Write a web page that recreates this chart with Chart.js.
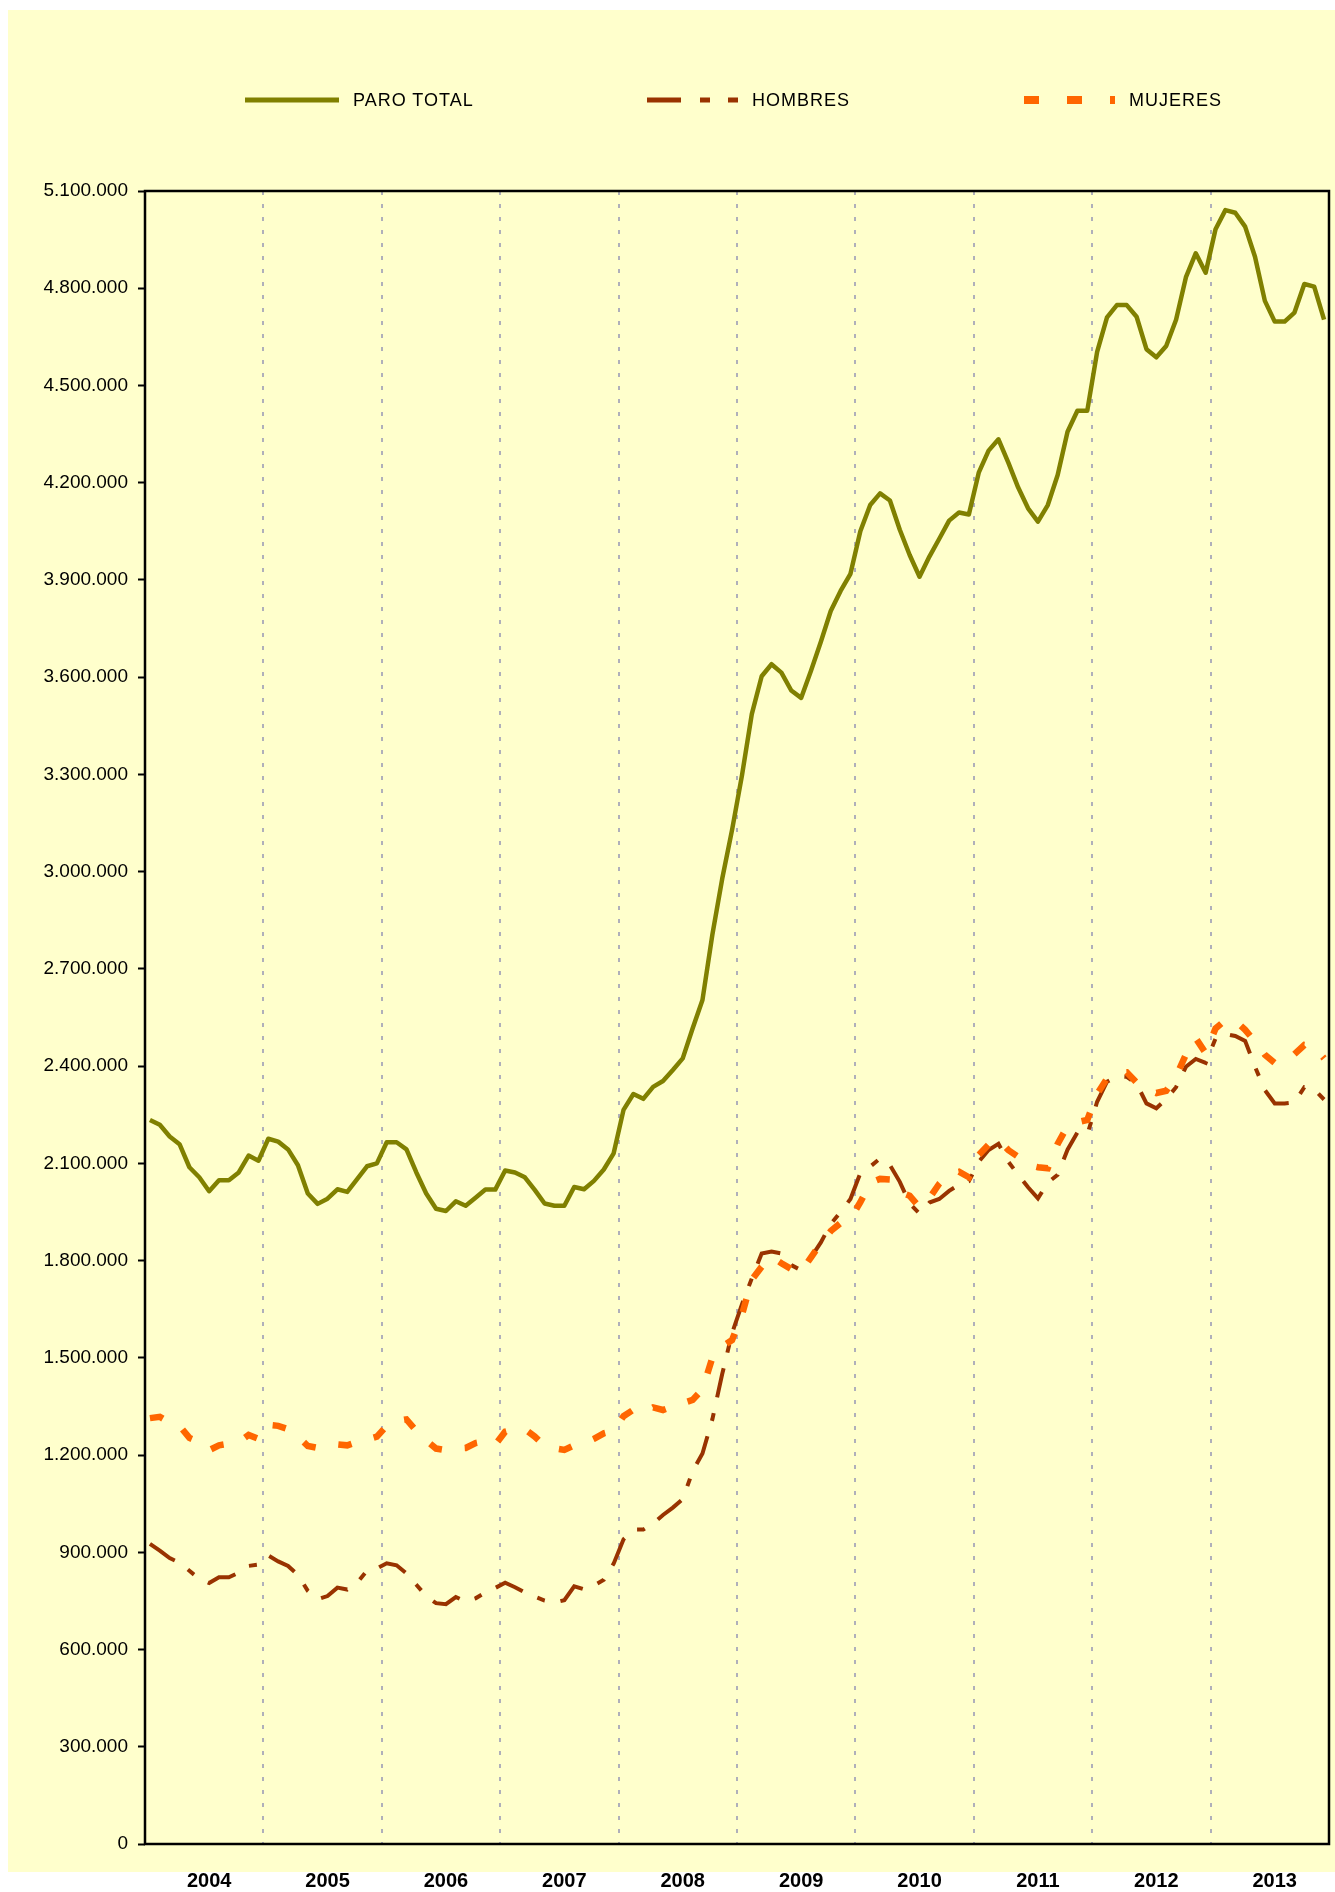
<!DOCTYPE html>
<html lang="es">
<head>
<meta charset="utf-8">
<title>Paro registrado 2004-2013</title>
<script src="https://cdn.jsdelivr.net/npm/chart.js@4.4.1/dist/chart.umd.min.js"></script>
<style>
  html, body { margin: 0; padding: 0; background: #fff; }
  #wrap { position: relative; width: 1335px; height: 1892px; }
  #chart { position: absolute; left: 0; top: 0; }
  .legend { position: absolute; left: 0; top: 88px; width: 1335px; height: 24px;
            font-family: "Liberation Sans", Arial, sans-serif; font-size: 18px;
            letter-spacing: 1px; color: #000; }
  .item { position: absolute; top: 0; height: 24px; display: flex; align-items: center; white-space: nowrap; }
  .item svg { margin-right: 14px; display: block; }
</style>
</head>
<body>
<div id="wrap">
  <canvas id="chart" width="1335" height="1892"></canvas>
  <div class="legend">
    <div class="item" style="left:245px">
      <svg width="94" height="12"><line x1="0" y1="6" x2="94" y2="6" stroke="#808000" stroke-width="5"/></svg>PARO TOTAL
    </div>
    <div class="item" style="left:647px">
      <svg width="91" height="12"><line x1="0" y1="6" x2="91" y2="6" stroke="#993300" stroke-width="5" stroke-dasharray="34 19 10 18 10"/></svg>HOMBRES
    </div>
    <div class="item" style="left:1024px">
      <svg width="91" height="12"><line x1="0" y1="6" x2="91" y2="6" stroke="#FF6600" stroke-width="8" stroke-dasharray="15 28"/></svg>MUJERES
    </div>
  </div>
</div>

<script>
// years shown under the axis, one category per month
const years = ["2004", "2005", "2006", "2007", "2008", "2009", "2010", "2011", "2012", "2013"];
const monthNames = ["01", "02", "03", "04", "05", "06", "07", "08", "09", "10", "11", "12"];
const months = years.flatMap(y => monthNames.map(m => y + "-" + m));

// values in thousands of people
const paroTotal = [
  2234, 2219, 2183, 2159, 2088, 2057, 2014, 2048, 2048, 2072, 2124, 2108, // 2004
  2176, 2167, 2143, 2094, 2007, 1975, 1991, 2020, 2012, 2051, 2091, 2100, // 2005
  2165, 2165, 2143, 2072, 2007, 1960, 1953, 1983, 1969, 1994, 2019, 2019, // 2006
  2078, 2072, 2057, 2018, 1976, 1969, 1969, 2027, 2020, 2046, 2081, 2131, // 2007
  2265, 2314, 2299, 2336, 2354, 2388, 2424, 2516, 2604, 2805, 2978, 3129, // 2008
  3296, 3486, 3603, 3640, 3614, 3559, 3536, 3620, 3709, 3804, 3866, 3919, // 2009
  4050, 4131, 4167, 4145, 4055, 3977, 3910, 3972, 4027, 4083, 4108, 4102, // 2010
  4231, 4299, 4334, 4262, 4185, 4121, 4080, 4131, 4224, 4357, 4422, 4422, // 2011
  4604, 4710, 4748, 4748, 4712, 4612, 4587, 4622, 4703, 4834, 4908, 4848, // 2012
  4982, 5041, 5033, 4990, 4897, 4761, 4697, 4697, 4725, 4813, 4805, 4703  // 2013
];

const hombres = [
  926, 905, 882, 868, 843, 818, 805, 823, 823, 837, 858, 862,
  890, 872, 858, 830, 781, 755, 765, 791, 785, 806, 843, 850,
  866, 860, 835, 800, 765, 743, 740, 762, 748, 758, 776, 790,
  806, 792, 776, 763, 751, 745, 752, 795, 786, 798, 815, 865,
  940, 970, 970, 989, 1015, 1038, 1064, 1150, 1205, 1310, 1450, 1576,
  1665, 1745, 1822, 1828, 1822, 1786, 1770, 1810, 1856, 1913, 1950, 1990,
  2070, 2090, 2115, 2095, 2043, 1976, 1945, 1979, 1990, 2015, 2034, 2045,
  2105, 2141, 2160, 2105, 2065, 2026, 1992, 2040, 2065, 2142, 2195, 2188,
  2290, 2352, 2368, 2367, 2346, 2285, 2270, 2298, 2335, 2398, 2422, 2410,
  2485, 2499, 2493, 2478, 2398, 2326, 2285, 2285, 2288, 2335, 2328, 2297
];

const mujeres = [
  1314, 1318, 1300, 1290, 1253, 1240, 1215, 1230, 1235, 1240, 1262, 1250,
  1293, 1290, 1280, 1257, 1228, 1222, 1228, 1233, 1230, 1240, 1248, 1257,
  1290, 1305, 1310, 1275, 1245, 1220, 1215, 1220, 1222, 1237, 1243, 1232,
  1272, 1280, 1280, 1257, 1228, 1221, 1216, 1230, 1236, 1250, 1267, 1275,
  1320, 1340, 1330, 1347, 1339, 1350, 1360, 1370, 1403, 1500, 1535, 1555,
  1632, 1741, 1781, 1812, 1792, 1774, 1766, 1810, 1853, 1891, 1916, 1930,
  1980, 2040, 2052, 2050, 2012, 2000, 1965, 1993, 2037, 2068, 2074, 2057,
  2126, 2158, 2174, 2141, 2120, 2095, 2088, 2085, 2160, 2215, 2227, 2234,
  2314, 2362, 2380, 2381, 2349, 2331, 2317, 2324, 2368, 2436, 2486, 2440,
  2516, 2542, 2540, 2512, 2476, 2435, 2410, 2412, 2437, 2465, 2460, 2424
];

const yMax = 5100;
const yStep = 300;

function withDots(n) {
  return String(n).replace(/\B(?=(\d{3})+(?!\d))/g, ".");
}

// yellow backdrop and black frame round the plot area
const plotFrame = {
  id: "plotFrame",
  beforeDraw(chart) {
    const ctx = chart.ctx;
    ctx.save();
    ctx.fillStyle = "#FFFFCC";
    ctx.fillRect(8, 10, chart.width - 8, 1862);
    ctx.restore();
  },
  afterDraw(chart) {
    const { left, top, right, bottom } = chart.chartArea;
    const ctx = chart.ctx;
    ctx.save();
    ctx.strokeStyle = "#000";
    ctx.lineWidth = 2.5;
    ctx.strokeRect(left, top, right - left, bottom - top);
    ctx.restore();
  }
};

Chart.defaults.font.family = '"Liberation Sans", Arial, sans-serif';
Chart.defaults.color = "#000";

new Chart(document.getElementById("chart").getContext("2d"), {
  type: "line",
  data: {
    labels: months,
    datasets: [
      {
        label: "PARO TOTAL",
        data: paroTotal,
        borderColor: "#808000",
        borderWidth: 4.5,
        borderJoinStyle: "round",
        pointRadius: 0,
        order: 3
      },
      {
        label: "HOMBRES",
        data: hombres,
        borderColor: "#993300",
        borderWidth: 4,
        borderDash: [30, 16, 8, 16],
        pointRadius: 0,
        order: 2
      },
      {
        label: "MUJERES",
        data: mujeres,
        borderColor: "#FF6600",
        borderWidth: 6.5,
        borderDash: [13.5, 23],
        pointRadius: 0,
        order: 1
      }
    ]
  },
  options: {
    responsive: false,
    animation: false,
    devicePixelRatio: 1,
    layout: { padding: { left: 8, right: 6, top: 191, bottom: 0 } },
    plugins: {
      legend: { display: false },
      tooltip: { enabled: false }
    },
    scales: {
      x: {
        type: "category",
        offset: true,
        grid: {
          offset: true,
          drawTicks: true,
          tickLength: 17,
          tickColor: "rgba(0,0,0,0)",
          lineWidth: 2,
          color: c => (c.index > 0 && c.index % 12 === 0) ? "#AFAFBA" : "rgba(0,0,0,0)"
        },
        border: { display: false, dash: [4, 9] },
        ticks: {
          autoSkip: false,
          maxRotation: 0,
          minRotation: 0,
          padding: 8,
          font: { size: 20, weight: "bold" },
          callback: (v, i) => (i % 12 === 6) ? years[Math.floor(i / 12)] : ""
        },
        afterFit: s => { s.height = 48; }
      },
      y: {
        min: 0,
        max: yMax,
        grid: {
          drawOnChartArea: false,
          drawTicks: true,
          tickLength: 7,
          tickColor: "#000",
          tickWidth: 2
        },
        border: { display: false },
        ticks: {
          stepSize: yStep,
          padding: 10,
          font: { size: 19 },
          callback: v => withDots(v * 1000)
        },
        afterFit: s => { s.width = 137; }
      }
    }
  },
  plugins: [plotFrame]
});
</script>
</body>
</html>
